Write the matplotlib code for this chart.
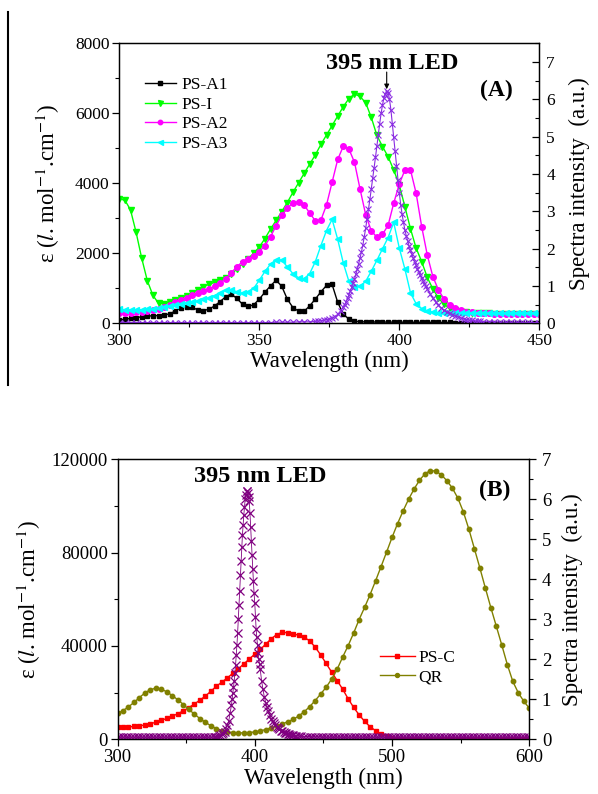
import numpy as np
import matplotlib
matplotlib.use("Agg")
import matplotlib.pyplot as plt
from matplotlib.ticker import MultipleLocator
from matplotlib.lines import Line2D

# colours (Origin defaults)
PURPLE_A = "#8a2be2"
PURPLE_B = "#800080"
OLIVE = "#808000"

plt.rcParams.update(
    {
        "font.family": "Liberation Serif",
        "mathtext.fontset": "stix",
        "axes.linewidth": 0.9,
        "xtick.major.width": 0.9,
        "ytick.major.width": 0.9,
        "xtick.minor.width": 0.8,
        "ytick.minor.width": 0.8,
    }
)

# ---------------- panel A data ----------------
wl_a = np.arange(300, 451, 2)

ps_a1 = [100, 115, 140, 165, 185, 205, 215, 220, 240, 270,
         350, 450, 475, 455, 385, 365, 400, 495, 620, 760,
         835, 710, 545, 480, 530, 690, 890, 1070, 1230, 1060,
         690, 450, 350, 340, 500, 690, 900, 1080, 1110, 600,
         260, 120, 60, 45, 40, 38, 36, 35, 34, 33,
         32, 31, 30, 29, 28, 27, 26, 25, 24, 23,
         22, 20, 18, 16, 14, 12, 10, 9, 8, 7,
         6, 5, 5, 4, 4, 3]

ps_i = [3550, 3520, 3240, 2600, 1860, 1220, 800, 570, 555, 600,
        660, 730, 790, 860, 955, 1045, 1110, 1170, 1230, 1300,
        1400, 1550, 1700, 1850, 2000, 2180, 2420, 2690, 2940, 3190,
        3450, 3740, 4010, 4280, 4550, 4810, 5110, 5380, 5650, 5920,
        6190, 6420, 6550, 6480, 6300, 5880, 5370, 5050, 4760, 4380,
        3950, 3330, 2700, 2150, 1760, 1310, 980, 720, 540, 430,
        370, 335, 310, 300, 290, 285, 280, 278, 276, 274,
        272, 270, 270, 268, 268, 266]

ps_a2 = [290, 290, 300, 310, 320, 340, 375, 420, 470, 530,
         600, 670, 735, 795, 860, 920, 985, 1055, 1140, 1270,
         1440, 1620, 1760, 1840, 1920, 2050, 2220, 2470, 2790, 3080,
         3290, 3440, 3470, 3380, 3150, 2930, 2950, 3380, 4030, 4680,
         5060, 4980, 4600, 3830, 3100, 2640, 2460, 2540, 2800, 3430,
         3980, 4380, 4380, 3720, 2760, 1950, 1330, 950, 690, 530,
         430, 375, 335, 310, 295, 285, 280, 275, 272, 270,
         268, 266, 265, 264, 263, 262]

ps_a3 = [400, 390, 385, 385, 390, 400, 410, 430, 460, 500,
         535, 560, 580, 600, 640, 680, 730, 790, 870, 940,
         960, 900, 855, 880, 1000, 1230, 1480, 1690, 1810, 1810,
         1610, 1420, 1300, 1270, 1420, 1760, 2220, 2650, 2970, 2400,
         1720, 1200, 1050, 1060, 1200, 1490, 1800, 2130, 2450, 2880,
         2150, 1550, 870, 560, 420, 350, 320, 305, 300, 298,
         296, 295, 294, 293, 292, 291, 290, 290, 290, 290,
         290, 290, 290, 290, 290, 290]

# LED emission, denser sampling around the peak
led_a_nm = np.concatenate([np.arange(300, 371, 2), np.arange(371, 380),
                           np.linspace(380, 410, 61), np.arange(411, 431),
                           np.arange(432, 451, 2)])
led_a = [0.02, 0.02, 0.02, 0.02, 0.02, 0.02, 0.02, 0.02, 0.02, 0.02,
         0.02, 0.02, 0.02, 0.02, 0.02, 0.02, 0.02, 0.02, 0.02, 0.02,
         0.02, 0.02, 0.02, 0.02, 0.02, 0.02, 0.02, 0.02, 0.03, 0.03,
         0.03, 0.03, 0.04, 0.04, 0.04, 0.05,
         0.06, 0.07, 0.08, 0.10, 0.11, 0.14, 0.18, 0.24, 0.33,
         0.44, 0.50, 0.58, 0.67, 0.76, 0.86, 0.96, 1.07, 1.18, 1.31,
         1.45, 1.60, 1.75, 1.92, 2.10, 2.32, 2.55, 2.80, 3.05, 3.32,
         3.60, 3.88, 4.15, 4.45, 4.75, 5.05, 5.35, 5.62, 5.85, 6.03,
         6.15, 6.22, 6.18, 6.00, 5.72, 5.35, 4.98, 4.62, 4.22, 3.85,
         3.50, 3.18, 2.92, 2.70, 2.50, 2.34, 2.20, 2.07, 1.95, 1.85,
         1.75, 1.65, 1.55, 1.46, 1.38, 1.29, 1.20, 1.13, 1.06, 0.99,
         0.92,
         0.79, 0.67, 0.57, 0.48, 0.41, 0.35, 0.31, 0.27, 0.23, 0.20,
         0.17, 0.14, 0.12, 0.10, 0.085, 0.075, 0.065, 0.055, 0.05, 0.045,
         0.04, 0.04, 0.035, 0.03, 0.03, 0.03, 0.025, 0.025, 0.02, 0.02]

# ---------------- panel B data ----------------
wl_b = np.arange(300, 601, 4)

ps_c = [5100, 5100, 5300, 5500, 5800, 6100, 6700, 7300, 8100, 9000,
        9900, 11000, 12200, 13600, 15100, 16800, 18500, 20600, 22700, 24500,
        26300, 28300, 30200, 32300, 34400, 36500, 38500, 40800, 43100, 44900,
        45800, 45700, 45200, 44600, 43700, 42200, 39500, 36200, 32500, 28800,
        25200, 21500, 17400, 13700, 10500, 7700, 5400, 3700, 2300, 1300,
        600, 300, 200, 150, 120, 100, 100, 100, 100, 100,
        100, 100, 100, 100, 100, 100, 100, 100, 100, 100,
        100, 100, 100, 100, 100, 100]

qr = [11100, 12300, 13900, 15800, 17900, 19900, 21300, 21900, 21500, 20300,
      18700, 16900, 14900, 12800, 10800, 8900, 7300, 5800, 4600, 3700,
      3150, 2900, 2750, 2750, 2900, 3150, 3600, 4200, 4900, 5700,
      6600, 7500, 8500, 10000, 11800, 14000, 16600, 19400, 22300, 25800,
      30000, 35200, 40100, 45500, 51300, 56500, 62000, 67900, 74000, 80200,
      86500, 92400, 97800, 102800, 107200, 111000, 113800, 115200, 114900, 113300,
      110800, 107600, 103300, 97400, 90000, 81700, 73400, 64800, 56400, 48400,
      40300, 32000, 24800, 19900, 16300, 13300]

led_b_nm = np.concatenate([np.arange(300, 369, 2), np.arange(370, 383),
                           np.linspace(383, 404, 43), np.arange(405, 431),
                           np.arange(432, 601, 2)])
led_b = [0.05, 0.05, 0.05, 0.05, 0.05, 0.05, 0.05, 0.05, 0.05, 0.05,
         0.05, 0.05, 0.05, 0.05, 0.05, 0.05, 0.05, 0.05, 0.05, 0.05,
         0.05, 0.05, 0.05, 0.05, 0.05, 0.05, 0.05, 0.05, 0.05, 0.05,
         0.05, 0.05, 0.05, 0.05, 0.05,
         0.05, 0.05, 0.06, 0.07, 0.08, 0.10, 0.13, 0.16, 0.19, 0.26,
         0.36, 0.45, 0.65,
         0.85, 1.00, 1.15, 1.30, 1.45, 1.65, 1.85, 2.10, 2.35, 2.65,
         3.00, 3.35, 3.70, 4.10, 4.45, 4.80, 5.10, 5.35, 5.60, 5.80,
         6.00, 6.12, 6.20, 6.20, 6.15, 6.05, 5.95, 5.65, 5.30, 4.95,
         4.60, 4.25, 3.95, 3.65, 3.40, 3.05, 2.75, 2.55, 2.35, 2.15,
         2.00, 1.88, 1.75,
         1.45, 1.25, 1.05, 0.92, 0.80, 0.70, 0.60, 0.52, 0.45, 0.40,
         0.35, 0.31, 0.28, 0.25, 0.22, 0.20, 0.18, 0.17, 0.15, 0.14,
         0.13, 0.12, 0.11, 0.10, 0.09, 0.09,
         0.08, 0.08, 0.07, 0.07, 0.07, 0.06, 0.06, 0.06, 0.06,
         0.05, 0.05, 0.05, 0.05, 0.05, 0.05, 0.05, 0.05, 0.05, 0.05,
         0.05, 0.05, 0.05, 0.05, 0.05, 0.05, 0.05, 0.05, 0.05, 0.05,
         0.05, 0.05, 0.05, 0.05, 0.05, 0.05, 0.05, 0.05, 0.05, 0.05,
         0.05, 0.05, 0.05, 0.05, 0.05, 0.05, 0.05, 0.05, 0.05, 0.05,
         0.05, 0.05, 0.05, 0.05, 0.05, 0.05, 0.05, 0.05, 0.05, 0.05,
         0.05, 0.05, 0.05, 0.05, 0.05, 0.05, 0.05, 0.05, 0.05, 0.05,
         0.05, 0.05, 0.05, 0.05, 0.05, 0.05, 0.05, 0.05, 0.05, 0.05,
         0.05, 0.05, 0.05, 0.05, 0.05, 0.05]

EPS_LABEL = r"ε ($\mathit{l}$. mol$^{-1}$.cm$^{-1}$)"
INT_LABEL = "Spectra intensity  (a.u.)"

W, H = 598, 794


def px_box(left, top, right, bottom):
    return [left / W, 1 - bottom / H, (right - left) / W, (bottom - top) / H]


fig = plt.figure(figsize=(W / 100, H / 100), dpi=100)

# ================= panel A =================
axA = fig.add_axes(px_box(119.3, 43.3, 539.3, 323.3))
axA.plot(wl_a, ps_a1, color="black", marker="s", ms=3.5, lw=1, label="PS-A1")
axA.plot(wl_a, ps_i, color="#00ff00", marker="v", ms=4.5, lw=1, label="PS-I")
axA.plot(wl_a, ps_a2, color="#ff00ff", marker="o", ms=4, lw=1, label="PS-A2")
axA.plot(wl_a, ps_a3, color="#00ffff", marker="<", ms=4.5, lw=1, label="PS-A3")
axA.set_xlim(300, 450)
axA.set_ylim(0, 8000)
axA.xaxis.set_major_locator(MultipleLocator(50))
axA.xaxis.set_minor_locator(MultipleLocator(25))
axA.yaxis.set_major_locator(MultipleLocator(2000))
axA.yaxis.set_minor_locator(MultipleLocator(1000))
axA.tick_params(which="both", direction="out", labelsize=12.5, top=False, pad=2)
axA.tick_params(which="major", length=5)
axA.tick_params(which="minor", length=3)
axA.set_xlabel("Wavelength (nm)", fontsize=16.5, labelpad=1)
axA.set_ylabel(EPS_LABEL, fontsize=16.5, labelpad=9)
axA.legend(loc="upper left", bbox_to_anchor=(0.06, 0.88), frameon=False,
           fontsize=12.5, handlelength=1.8, handletextpad=0.35,
           labelspacing=0.2, borderpad=0, borderaxespad=0, markerscale=0.8)

axA2 = axA.twinx()
axA2.plot(led_a_nm, led_a, color=PURPLE_A, marker="x", ms=3.8, mew=0.8, lw=0.8)
axA2.set_ylim(0, 7.5)
axA2.yaxis.set_major_locator(MultipleLocator(1))
axA2.yaxis.set_minor_locator(MultipleLocator(0.5))
axA2.tick_params(which="both", direction="in", labelsize=12.5, pad=5)
axA2.tick_params(which="major", length=5)
axA2.tick_params(which="minor", length=3)
axA2.set_ylabel(INT_LABEL, fontsize=16.5, labelpad=10)

axA.text(0.649, 0.929, "395 nm LED", transform=axA.transAxes, fontsize=17.5,
         fontweight="bold", ha="center", va="center")
axA.text(0.898, 0.833, "(A)", transform=axA.transAxes, fontsize=17,
         fontweight="bold", ha="center", va="center")
axA2.annotate("", xy=(395.5, 6.27), xytext=(395.5, 6.73),
              arrowprops=dict(arrowstyle="-|>", color="black", lw=0.8,
                              mutation_scale=7, shrinkA=0, shrinkB=0))

# ================= panel B =================
axB = fig.add_axes(px_box(117.5, 459.3, 529.3, 739.3))
axB.plot(wl_b, ps_c, color="#ff0000", marker="s", ms=3, lw=1, label="PS-C")
axB.plot(wl_b, qr, color=OLIVE, marker="o", ms=3.2, lw=1, label="QR")
axB.set_xlim(300, 600)
axB.set_ylim(0, 120000)
axB.xaxis.set_major_locator(MultipleLocator(100))
axB.xaxis.set_minor_locator(MultipleLocator(50))
axB.yaxis.set_major_locator(MultipleLocator(40000))
axB.yaxis.set_minor_locator(MultipleLocator(20000))
axB.tick_params(which="both", direction="out", labelsize=13.5, top=False, pad=2)
axB.tick_params(which="major", length=5)
axB.tick_params(which="minor", length=3)
axB.set_xlabel("Wavelength (nm)", fontsize=16.5, labelpad=1)
axB.set_ylabel(EPS_LABEL, fontsize=16.5, labelpad=6)
axB.legend(loc="upper left", bbox_to_anchor=(0.6375, 0.32), frameon=False,
           fontsize=12.5, handlelength=2.0, handletextpad=0.2,
           labelspacing=0.2, borderpad=0, borderaxespad=0, markerscale=0.9)

axB2 = axB.twinx()
axB2.plot(led_b_nm, led_b, color=PURPLE_B, marker="x", ms=5.5, mew=0.9, lw=0.6)
axB2.set_ylim(0, 7)
axB2.yaxis.set_major_locator(MultipleLocator(1))
axB2.yaxis.set_minor_locator(MultipleLocator(0.5))
axB2.tick_params(which="both", direction="out", labelsize=13.5, pad=4)
axB2.tick_params(which="major", length=5)
axB2.tick_params(which="minor", length=3)
axB2.set_ylabel(INT_LABEL, fontsize=16.5, labelpad=8)

axB.text(0.346, 0.938, "395 nm LED", transform=axB.transAxes, fontsize=17.5,
         fontweight="bold", ha="center", va="center")
axB.text(0.917, 0.890, "(B)", transform=axB.transAxes, fontsize=17,
         fontweight="bold", ha="center", va="center")

# stray vertical rule at the left edge of the original figure
fig.add_artist(Line2D([7.5 / W, 7.5 / W], [1 - 12 / H, 1 - 385 / H],
                      color="black", lw=1.5))

fig.savefig("out.png", dpi=100)
